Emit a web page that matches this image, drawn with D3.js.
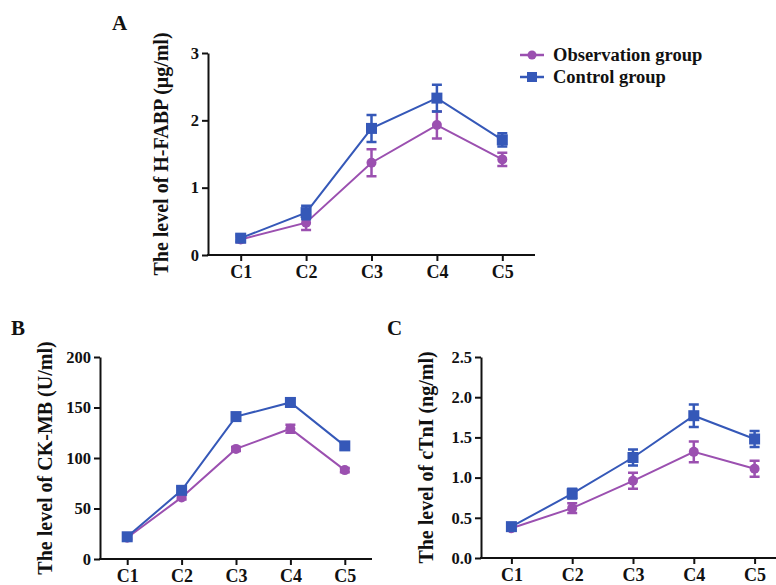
<!DOCTYPE html>
<html>
<head>
<meta charset="utf-8">
<script src="https://cdn.jsdelivr.net/npm/d3@7"></script>
<style>
  body { margin: 0; background: #fff; }
  svg text { font-family: "Liberation Serif", "Times New Roman", serif; font-weight: bold; fill: #111; }
</style>
</head>
<body>
<div class="container"></div>
<script>
const WIDTH = 776;
const HEIGHT = 585;

const PURPLE = "#9b50b0";
const BLUE = "#3558b8";

// time points
var categories = ["C1", "C2", "C3", "C4", "C5"];
var seriesNames = ["Observation group", "Control group"];

// A: H-FABP (ug/ml)
var fabpObs = [0.23, 0.48, 1.37, 1.93, 1.42];
var fabpObsErr = [0.04, 0.11, 0.2, 0.2, 0.1];
var fabpCtrl = [0.25, 0.63, 1.88, 2.33, 1.71];
var fabpCtrlErr = [0.05, 0.1, 0.2, 0.2, 0.1];
var fabpTicks = [0, 1, 2, 3];

// B: CK-MB (U/ml)
var ckObs = [21, 61, 109, 129, 88];
var ckObsErr = [2, 2, 2, 4, 2];
var ckCtrl = [22, 68, 141, 155, 112];
var ckCtrlErr = [2, 3, 3, 4, 3];
var ckTicks = [0, 50, 100, 150, 200];

// C: cTnI (ng/ml)
var tnObs = [0.37, 0.62, 0.96, 1.32, 1.11];
var tnObsErr = [0.03, 0.06, 0.1, 0.13, 0.1];
var tnCtrl = [0.39, 0.8, 1.25, 1.77, 1.48];
var tnCtrlErr = [0.04, 0.06, 0.1, 0.14, 0.1];
var tnTicks = [0, 0.5, 1.0, 1.5, 2.0, 2.5];

var svg = d3.select('.container').append('svg')
  .attr('width', WIDTH)
  .attr('height', HEIGHT);

var panel = function (cfg) {
  var x = d3.scalePoint().domain(categories).range([cfg.x0, cfg.x1]).padding(0.5);
  var y = d3.scaleLinear().domain(cfg.domain).range([cfg.y0, cfg.y1]);

  var g = svg.append('g');

  // y axis
  var yAxis = d3.axisLeft(y).tickValues(cfg.ticks).tickSize(6).tickSizeOuter(0).tickPadding(3)
    .tickFormat(cfg.fmt);
  var ya = g.append('g').attr('transform', 'translate(' + cfg.x0 + ',0)').call(yAxis);
  ya.selectAll('text').style('font-size', '16.5px');

  // x axis
  var xAxis = d3.axisBottom(x).tickSize(6).tickSizeOuter(0).tickPadding(4);
  var xa = g.append('g').attr('transform', 'translate(0,' + cfg.y0 + ')').call(xAxis);
  xa.selectAll('text').style('font-size', '18px');

  [ya, xa].forEach(function (a) {
    a.select('.domain').attr('stroke', '#111').attr('stroke-width', 2);
    a.selectAll('.tick line').attr('stroke', '#111').attr('stroke-width', 2);
  });
  xa.select('.domain').attr('d', 'M' + (cfg.x0 - 1) + ',0H' + cfg.x1);

  // axis title
  g.append('text')
    .attr('transform', 'translate(' + cfg.titleX + ',' + ((cfg.y0 + cfg.y1) / 2 + cfg.titleDy) + ') rotate(-90)')
    .attr('text-anchor', 'middle')
    .style('font-size', '20px')
    .text(cfg.title);

  // panel letter
  g.append('text')
    .attr('x', cfg.letterX).attr('y', cfg.letterY)
    .style('font-size', '21px')
    .text(cfg.letter);

  var series = [
    { vals: cfg.obs, err: cfg.obsErr, color: PURPLE, shape: 'circle' },
    { vals: cfg.ctrl, err: cfg.ctrlErr, color: BLUE, shape: 'square' }
  ];

  var line = d3.line()
    .x(function (d, i) { return x(categories[i]); })
    .y(function (d) { return y(d); });

  series.forEach(function (s) {
    var sg = g.append('g');
    sg.append('path')
      .attr('d', line(s.vals))
      .attr('fill', 'none')
      .attr('stroke', s.color)
      .attr('stroke-width', 2);

    // error bars
    s.vals.forEach(function (v, i) {
      var cx = x(categories[i]);
      var top = y(v + s.err[i]), bot = y(v - s.err[i]);
      sg.append('path')
        .attr('d', 'M' + cx + ',' + top + 'V' + bot +
          'M' + (cx - 5) + ',' + top + 'H' + (cx + 5) +
          'M' + (cx - 5) + ',' + bot + 'H' + (cx + 5))
        .attr('stroke', s.color)
        .attr('stroke-width', 2.5)
        .attr('fill', 'none');
    });

    if (s.shape === 'circle') {
      sg.selectAll('circle').data(s.vals).enter().append('circle')
        .attr('cx', function (d, i) { return x(categories[i]); })
        .attr('cy', function (d) { return y(d); })
        .attr('r', 5)
        .attr('fill', s.color);
    } else {
      sg.selectAll('rect').data(s.vals).enter().append('rect')
        .attr('x', function (d, i) { return x(categories[i]) - 5.5; })
        .attr('y', function (d) { return y(d) - 5.5; })
        .attr('width', 11).attr('height', 11)
        .attr('fill', s.color);
    }
  });
};

panel({
  x0: 208, x1: 535, y0: 255, y1: 53, domain: [0, 3], ticks: fabpTicks, fmt: d3.format('d'),
  title: 'The level of H-FABP (\u03bcg/ml)', titleX: 168, titleDy: 0,
  letter: 'A', letterX: 112, letterY: 30,
  obs: fabpObs, obsErr: fabpObsErr, ctrl: fabpCtrl, ctrlErr: fabpCtrlErr
});

panel({
  x0: 100, x1: 372, y0: 559, y1: 357, domain: [0, 200], ticks: ckTicks, fmt: d3.format('d'),
  title: 'The level of CK-MB (U/ml)', titleX: 52, titleDy: 0,
  letter: 'B', letterX: 11, letterY: 335,
  obs: ckObs, obsErr: ckObsErr, ctrl: ckCtrl, ctrlErr: ckCtrlErr
});

panel({
  x0: 481, x1: 785, y0: 558, y1: 357, domain: [0, 2.5], ticks: tnTicks, fmt: d3.format('.1f'),
  title: 'The level of cTnI (ng/ml)', titleX: 433, titleDy: 0,
  letter: 'C', letterX: 387, letterY: 335,
  obs: tnObs, obsErr: tnObsErr, ctrl: tnCtrl, ctrlErr: tnCtrlErr
});

// legend
var legend = svg.append('g');
[PURPLE, BLUE].forEach(function (c, i) {
  var ly = 55 + i * 22;
  legend.append('line')
    .attr('x1', 520).attr('x2', 544).attr('y1', ly).attr('y2', ly)
    .attr('stroke', c).attr('stroke-width', 2.5);
  if (i === 0) {
    legend.append('circle').attr('cx', 532).attr('cy', ly).attr('r', 4.5).attr('fill', c);
  } else {
    legend.append('rect').attr('x', 527).attr('y', ly - 5).attr('width', 10).attr('height', 10).attr('fill', c);
  }
  legend.append('text')
    .attr('x', 553).attr('y', ly + 6)
    .style('font-size', '18.5px')
    .text(seriesNames[i]);
});
</script>
</body>
</html>
